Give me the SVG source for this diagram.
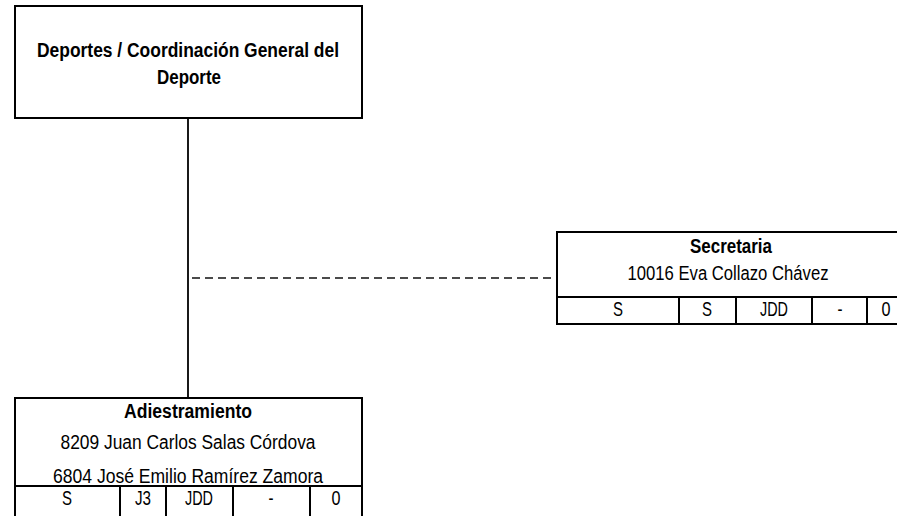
<svg xmlns="http://www.w3.org/2000/svg" width="897" height="516" viewBox="0 0 897 516">
<style>
text{font-family:"Liberation Sans",Arial,sans-serif;font-size:20px;fill:#000;text-anchor:middle}
.b{font-weight:bold}
.box{fill:#fff;stroke:#000;stroke-width:2}
.cell{stroke:#000;stroke-width:2;fill:none}
.conn{stroke:#000;stroke-width:1.8;fill:none}
.dash{stroke:#111;stroke-width:1.6;fill:none;stroke-dasharray:8 5}
</style>
<rect width="897" height="516" fill="#fff"/>
<g id="connectors">
<line class="conn" x1="188" y1="118" x2="188" y2="398"/>
<line class="dash" x1="192" y1="278" x2="557" y2="278"/>
</g>
<g id="node-deportes">
<rect class="box" x="15" y="6" width="347" height="112"/>
<text class="b" x="188" y="57" textLength="302" lengthAdjust="spacingAndGlyphs">Deportes / Coordinación General del</text>
<text class="b" x="189" y="84" textLength="64" lengthAdjust="spacingAndGlyphs">Deporte</text>
</g>
<g id="node-secretaria">
<rect class="box" x="557" y="232" width="349" height="92"/>
<line class="cell" x1="557" y1="297" x2="906" y2="297"/>
<line class="cell" x1="679" y1="297" x2="679" y2="324"/>
<line class="cell" x1="736" y1="297" x2="736" y2="324"/>
<line class="cell" x1="812" y1="297" x2="812" y2="324"/>
<line class="cell" x1="867" y1="297" x2="867" y2="324"/>
<text class="b" x="731" y="253" textLength="82" lengthAdjust="spacingAndGlyphs">Secretaria</text>
<text x="728" y="280" textLength="201" lengthAdjust="spacingAndGlyphs">10016 Eva Collazo Chávez</text>
<text x="618" y="316" textLength="10" lengthAdjust="spacingAndGlyphs">S</text>
<text x="707" y="316" textLength="10" lengthAdjust="spacingAndGlyphs">S</text>
<text x="774" y="316" textLength="28" lengthAdjust="spacingAndGlyphs">JDD</text>
<text x="840" y="316" textLength="5" lengthAdjust="spacingAndGlyphs">-</text>
<text x="886" y="316" textLength="9" lengthAdjust="spacingAndGlyphs">0</text>
</g>
<g id="node-adiestramiento">
<rect class="box" x="15" y="398" width="347" height="124"/>
<line class="cell" x1="15" y1="486" x2="362" y2="486"/>
<line class="cell" x1="120" y1="486" x2="120" y2="522"/>
<line class="cell" x1="166" y1="486" x2="166" y2="522"/>
<line class="cell" x1="233" y1="486" x2="233" y2="522"/>
<line class="cell" x1="310" y1="486" x2="310" y2="522"/>
<text class="b" x="188" y="418" textLength="128" lengthAdjust="spacingAndGlyphs">Adiestramiento</text>
<text x="188" y="449" textLength="255" lengthAdjust="spacingAndGlyphs">8209 Juan Carlos Salas Córdova</text>
<text x="188" y="483" textLength="270" lengthAdjust="spacingAndGlyphs">6804 José Emilio Ramírez Zamora</text>
<text x="67" y="505" textLength="10" lengthAdjust="spacingAndGlyphs">S</text>
<text x="143" y="505" textLength="16" lengthAdjust="spacingAndGlyphs">J3</text>
<text x="199" y="505" textLength="28" lengthAdjust="spacingAndGlyphs">JDD</text>
<text x="271" y="505" textLength="5" lengthAdjust="spacingAndGlyphs">-</text>
<text x="336" y="505" textLength="9" lengthAdjust="spacingAndGlyphs">0</text>
</g>
</svg>
